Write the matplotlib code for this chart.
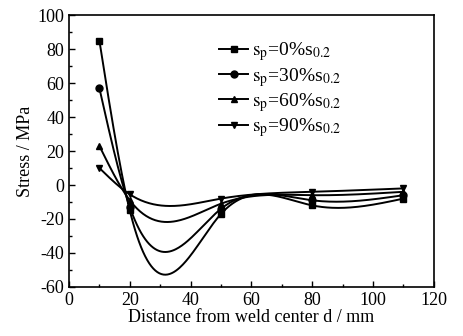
import numpy as np
import matplotlib
matplotlib.use("Agg")
import matplotlib.pyplot as plt

plt.rcParams['font.family'] = ['Liberation Serif', 'DejaVu Serif']
plt.rcParams['mathtext.fontset'] = 'stix'
plt.rcParams['axes.unicode_minus'] = False

# distance from weld center (mm)
d = [10, 20, 50, 80, 110]
# residual stress (MPa) for each preload level
s0 = [85, -15, -17, -12, -8]
s30 = [57, -13, -14, -9, -6]
s60 = [23, -9, -11, -6, -4]
s90 = [10, -5.5, -8, -4, -2]

labels = [r'$\mathrm{s_p}$=0%s$_{0.2}$', r'$\mathrm{s_p}$=30%s$_{0.2}$',
          r'$\mathrm{s_p}$=60%s$_{0.2}$', r'$\mathrm{s_p}$=90%s$_{0.2}$']
markers = ['s', 'o', '^', 'v']


def spline(x, y, n=300):
    # natural cubic spline, used only to draw the smooth connecting line
    x = np.asarray(x, float)
    y = np.asarray(y, float)
    k = len(x)
    h = np.diff(x)
    A = np.zeros((k, k))
    b = np.zeros(k)
    A[0, 0] = A[-1, -1] = 1
    for i in range(1, k - 1):
        A[i, i - 1] = h[i - 1]
        A[i, i] = 2 * (h[i - 1] + h[i])
        A[i, i + 1] = h[i]
        b[i] = 6 * ((y[i + 1] - y[i]) / h[i] - (y[i] - y[i - 1]) / h[i - 1])
    M = np.linalg.solve(A, b)
    xs = np.linspace(x[0], x[-1], n)
    j = np.clip(np.searchsorted(x, xs) - 1, 0, k - 2)
    t0 = x[j + 1] - xs
    t1 = xs - x[j]
    hj = h[j]
    ys = (M[j] * t0 ** 3 + M[j + 1] * t1 ** 3) / (6 * hj) \
        + (y[j] / hj - M[j] * hj / 6) * t0 + (y[j + 1] / hj - M[j + 1] * hj / 6) * t1
    return xs, ys


fig = plt.figure(figsize=(4.63, 3.36), dpi=100)
ax = fig.add_axes([0.149, 0.146, 0.788, 0.809])

for s, m, lab in zip([s0, s30, s60, s90], markers, labels):
    xs, ys = spline(d, s)
    ax.plot(xs, ys, color='black', lw=1.4)
    ax.plot(d, s, linestyle='none', marker=m, color='black', ms=5)
    ax.plot([], [], color='black', lw=1.4, marker=m, ms=5, label=lab)

ax.set_xlim(0, 120)
ax.set_ylim(-60, 100)
ax.set_xticks(range(0, 121, 20))
ax.set_yticks(range(-60, 101, 20))
ax.set_xticks(range(10, 120, 20), minor=True)
ax.set_yticks(range(-50, 100, 20), minor=True)
ax.tick_params(which='both', direction='in', top=False, right=False, labelsize=13)
ax.tick_params(which='major', length=4, width=1)
ax.tick_params(which='minor', length=2.5, width=1)
for sp in ax.spines.values():
    sp.set_linewidth(1.2)

ax.set_xlabel('Distance from weld center d / mm', fontsize=13, labelpad=0)
ax.set_ylabel('Stress / MPa', fontsize=13, labelpad=2)

ax.legend(loc='upper left', bbox_to_anchor=(0.39, 0.935), frameon=False,
          fontsize=14, handlelength=1.5, handletextpad=0.2, labelspacing=0.12,
          borderaxespad=0)

fig.savefig('out.png', dpi=100)
